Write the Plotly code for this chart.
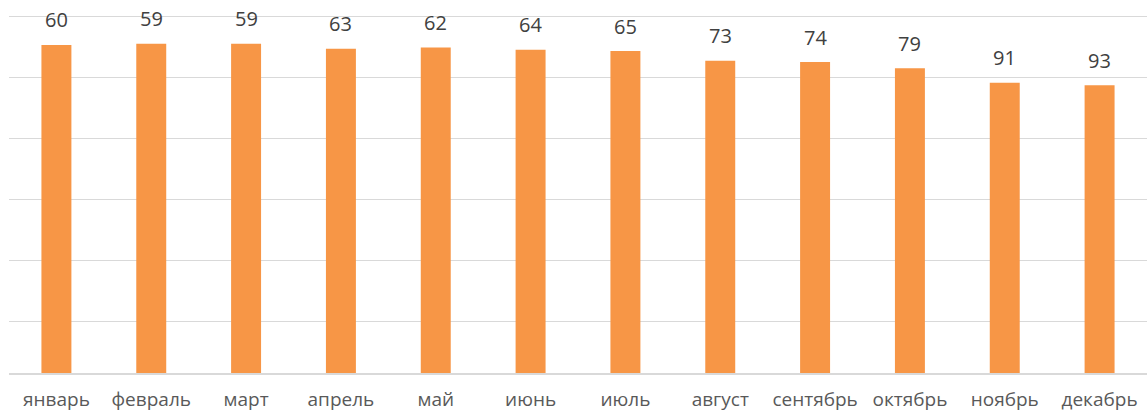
import plotly.graph_objects as go

months = ["январь", "февраль", "март", "апрель", "май", "июнь",
          "июль", "август", "сентябрь", "октябрь", "ноябрь", "декабрь"]
values = [60, 59, 59, 63, 62, 64, 65, 73, 74, 79, 91, 93]

# reversed value axis (axis crosses at maximum)
axis_top = 34.66
grid_start = 36.3
axis_bottom = 328.4
grid_step = 50

fig = go.Figure()
fig.add_trace(go.Bar(
    x=months,
    y=[v - axis_bottom for v in values],
    base=[axis_bottom] * len(values),
    marker=dict(color="#F79646", line=dict(width=0)),
    hoverinfo="skip",
))

for m, v in zip(months, values):
    fig.add_annotation(x=m, y=v, text=str(v), showarrow=False,
                       yanchor="middle", yshift=25,
                       font=dict(family="Open Sans", size=20, color="#404040"))

fig.update_layout(
    width=1148, height=412,
    margin=dict(l=9, r=1, t=14, b=39, autoexpand=False),
    paper_bgcolor="white", plot_bgcolor="white",
    bargap=0.684,
    showlegend=False,
    xaxis=dict(
        showgrid=False, showline=True, linecolor="#D9D9D9", linewidth=1.5,
        ticks="", ticklabelstandoff=8, automargin=False,
        tickfont=dict(family="Open Sans", size=19, color="#595959"),
    ),
    yaxis=dict(
        range=[axis_bottom, axis_top], autorange=False,
        tick0=grid_start, dtick=grid_step, automargin=False,
        showgrid=True, gridcolor="#D9D9D9", gridwidth=1.3,
        showticklabels=False, zeroline=False, showline=False,
    ),
)

fig.write_html("out.html", config={"displayModeBar": False},
               post_script="document.body.style.margin='0';document.body.style.padding='0';")
